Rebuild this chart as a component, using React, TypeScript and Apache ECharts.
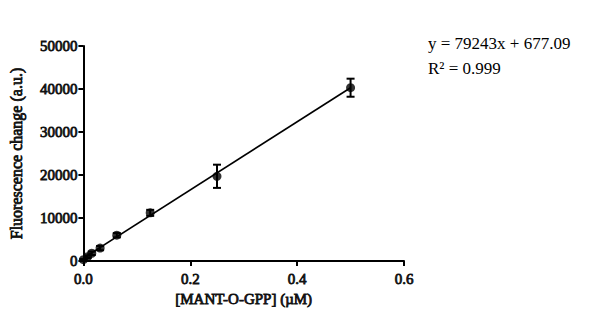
import React, { useEffect, useRef } from "react";
import * as echarts from "echarts";

const concentrations = [0, 0.0078125, 0.015625, 0.03125, 0.0625, 0.125, 0.25, 0.5];
const fluorescence = [300, 1000, 1800, 3000, 6000, 11200, 19700, 40300];
const errors = [150, 300, 400, 500, 500, 700, 2700, 2100];
const slope = 79243;
const intercept = 677.09;
const fitRange = [0, 0.5];
const xTicks = [0, 0.2, 0.4, 0.6];
const yTicks = [0, 10000, 20000, 30000, 40000, 50000];

const FONT = "'Liberation Serif', 'Times New Roman', serif";
const BOLD = {
  fontFamily: FONT,
  fontWeight: "normal",
  color: "#111",
  textBorderColor: "#111",
  textBorderWidth: 0.8,
};

export default function App() {
  const ref = useRef<HTMLDivElement>(null);
  useEffect(() => {
    const chart = echarts.init(ref.current!, null, { renderer: "svg" });
    const pts = concentrations.map((c, i) => [c, fluorescence[i]]);
    const errData = concentrations.map((c, i) => [c, fluorescence[i], errors[i]]);
    const fitData = fitRange.map((x) => [x, slope * x + intercept]);
    chart.setOption({
      animation: false,
      backgroundColor: "#fff",
      textStyle: { fontFamily: FONT },
      grid: { left: 83, top: 46, width: 321, height: 215 },
      xAxis: {
        type: "value",
        min: xTicks[0],
        max: xTicks[xTicks.length - 1],
        interval: 0.2,
        name: "[MANT-O-GPP] (µM)",
        nameLocation: "middle",
        nameGap: 27,
        nameTextStyle: { ...BOLD, fontSize: 15 },
        axisLine: { lineStyle: { color: "#000", width: 2 } },
        axisTick: { show: true, length: 5, lineStyle: { color: "#000", width: 2 } },
        axisLabel: {
          ...BOLD,
          fontSize: 15,
          margin: 10,
          formatter: (v: number) => v.toFixed(1),
        },
        splitLine: { show: false },
      },
      yAxis: {
        type: "value",
        min: yTicks[0],
        max: yTicks[yTicks.length - 1],
        interval: 10000,
        name: "Fluorescence change (a.u.)",
        nameLocation: "middle",
        nameGap: 59,
        nameTextStyle: { ...BOLD, fontSize: 16 },
        axisLine: { show: true, lineStyle: { color: "#000", width: 2 } },
        axisTick: { show: true, length: 5, lineStyle: { color: "#000", width: 2 } },
        axisLabel: {
          ...BOLD,
          fontSize: 15,
          margin: 6,
          formatter: (v: number) => String(v),
        },
        splitLine: { show: false },
      },
      series: [
        {
          type: "line",
          data: fitData,
          symbol: "none",
          lineStyle: { color: "#000", width: 1.6 },
          z: 2,
        },
        {
          type: "custom",
          data: errData,
          z: 3,
          renderItem: (params: any, api: any) => {
            const x = api.value(0);
            const y = api.value(1);
            const e = api.value(2);
            const top = api.coord([x, y + e]);
            const bot = api.coord([x, y - e]);
            const cap = 4;
            const style = { stroke: "#000", lineWidth: 2 };
            return {
              type: "group",
              children: [
                { type: "line", shape: { x1: top[0], y1: top[1], x2: bot[0], y2: bot[1] }, style },
                { type: "line", shape: { x1: top[0] - cap, y1: top[1], x2: top[0] + cap, y2: top[1] }, style },
                { type: "line", shape: { x1: bot[0] - cap, y1: bot[1], x2: bot[0] + cap, y2: bot[1] }, style },
              ],
            };
          },
        },
        {
          type: "scatter",
          data: pts,
          symbol: "circle",
          symbolSize: 9,
          itemStyle: { color: "#000" },
          z: 4,
        },
      ],
      graphic: [
        {
          type: "text",
          left: 428,
          top: 35,
          style: { text: "y = 79243x + 677.09", fontFamily: FONT, fontSize: 17, fill: "#000" },
        },
        {
          type: "text",
          left: 428,
          top: 60,
          style: { text: "R² = 0.999", fontFamily: FONT, fontSize: 17, fill: "#000" },
        },
      ],
    });
    return () => chart.dispose();
  }, []);
  return (
    <div
      ref={ref}
      style={{ position: "fixed", left: 0, top: 0, width: 594, height: 322, background: "#fff" }}
    />
  );
}
